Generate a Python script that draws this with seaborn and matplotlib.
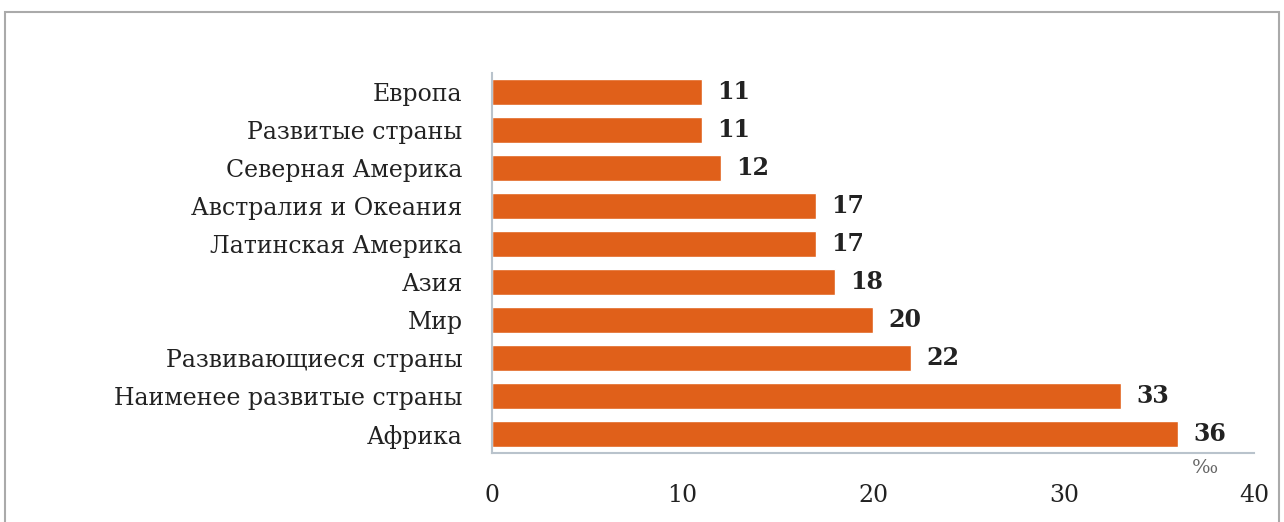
import matplotlib
matplotlib.use("Agg")
import matplotlib.pyplot as plt
import seaborn as sns
import pandas as pd
from matplotlib.patches import Rectangle
from matplotlib.ticker import FixedLocator

regions = ["Европа", "Развитые страны", "Северная Америка", "Австралия и Океания",
           "Латинская Америка", "Азия", "Мир", "Развивающиеся страны",
           "Наименее развитые страны", "Африка"]
rates = [11, 11, 12, 17, 17, 18, 20, 22, 33, 36]
x_ticks = [0, 10, 20, 30, 40]

df = pd.DataFrame({"region": regions, "rate": rates})

sns.set_theme(style="white")
plt.rcParams["font.family"] = ["DejaVu Serif"]

fig = plt.figure(figsize=(12.84, 5.22), dpi=100)
ax = fig.add_axes([0.383, 0.132, 0.594, 0.728])

bar_color = "#E0601A"
sns.barplot(data=df, x="rate", y="region", orient="h", color=bar_color,
            saturation=1, width=0.68, ax=ax)

for patch, v in zip(ax.patches, rates):
    y = patch.get_y() + patch.get_height() / 2
    ax.text(v + 0.8, y, str(v), va="center", ha="left", fontsize=17,
            fontweight="bold", color="#222222")

ax.set_xlim(0, 40)
ax.set_ylim(9.5, -0.5)
ax.set_xticks(x_ticks)
ax.set_xticklabels([str(t) for t in x_ticks], fontsize=17, color="#222222")
ax.set_yticklabels(regions, fontsize=17, color="#222222")
ax.set_xlabel("")
ax.set_ylabel("")

spine_col = "#b9c3cc"
for side in ["top", "right"]:
    ax.spines[side].set_visible(False)
for side in ["left", "bottom"]:
    ax.spines[side].set_color(spine_col)
    ax.spines[side].set_linewidth(1.5)

ax.yaxis.set_minor_locator(FixedLocator([i - 0.5 for i in range(11)]))
ax.tick_params(axis="y", which="major", length=0, pad=21)
ax.tick_params(axis="y", which="minor", length=5, color=spine_col, width=1.2, direction="out")
ax.tick_params(axis="x", which="major", length=5, color=spine_col, width=1, pad=17)

ax.text(37.4, 9.65, "‰", fontsize=14, color="#666666", ha="center", va="top")

fig.patches.append(Rectangle((0.004, -0.1), 0.992, 1.077, transform=fig.transFigure,
                             fill=False, edgecolor="#aaaaaa", linewidth=1.5))

fig.savefig("out.png", dpi=100)
